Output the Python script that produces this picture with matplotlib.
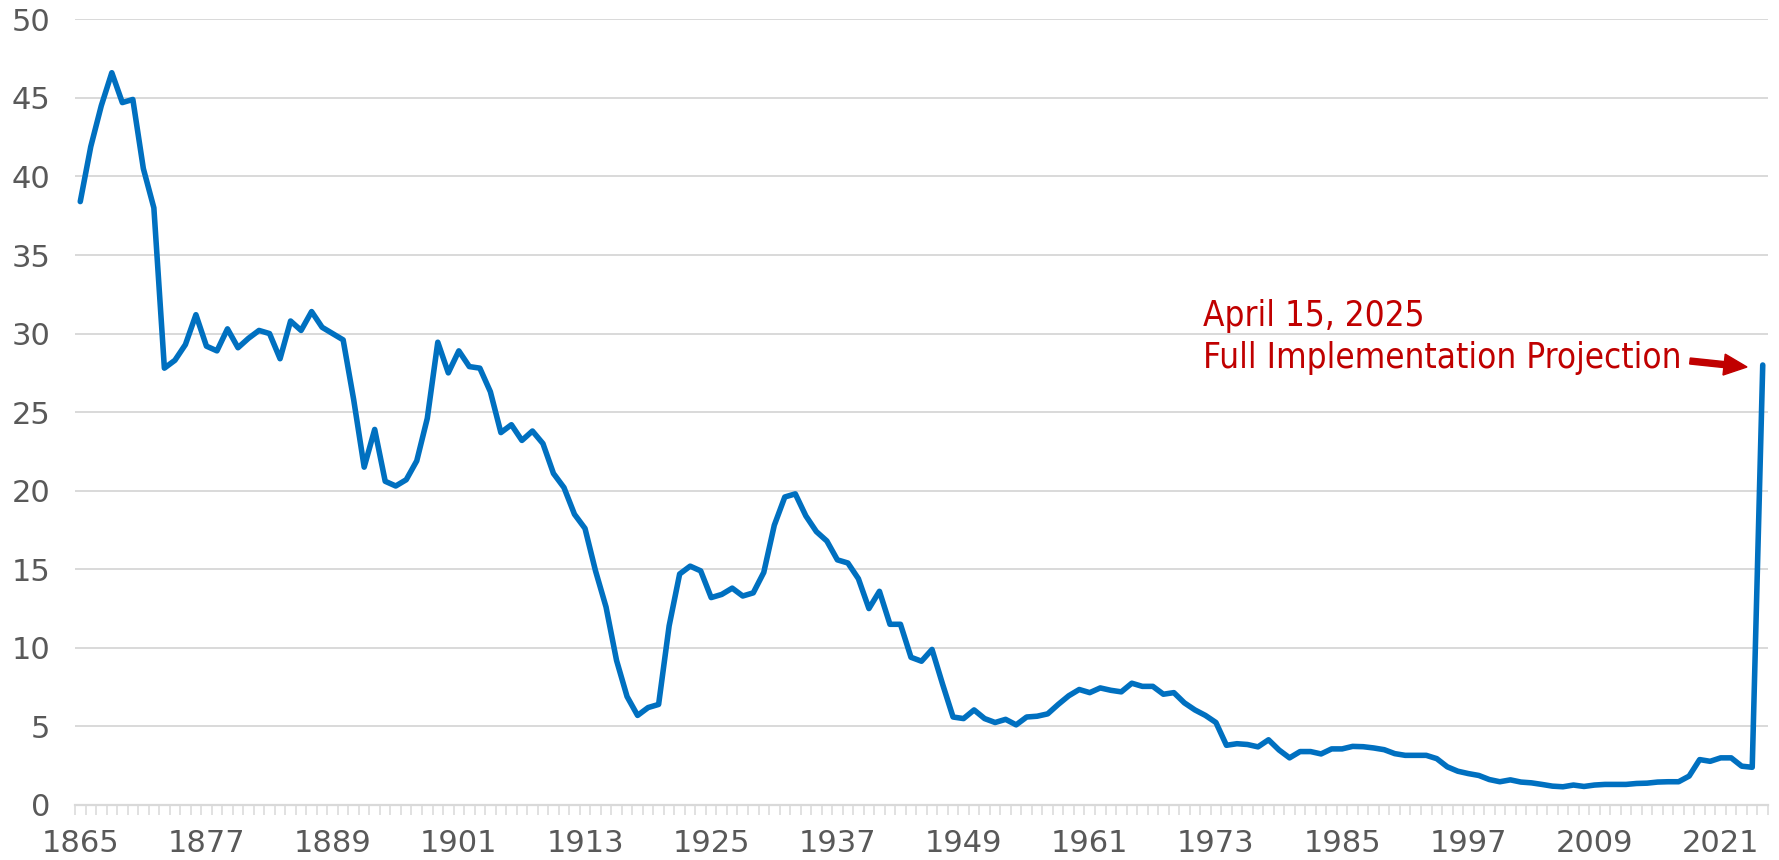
import matplotlib
matplotlib.use("Agg")
import matplotlib.pyplot as plt
import numpy as np
from matplotlib.patches import FancyArrow
from matplotlib.transforms import IdentityTransform
from matplotlib.ticker import FixedLocator, NullFormatter

# ---------------- data ----------------
years = list(range(1865, 2026))
tariff_rate = [
    38.4, 41.9, 44.5, 46.6, 44.7, 44.9, 40.5, 38.0, 27.8, 28.3,   # 1865-1874
    29.3, 31.2, 29.2, 28.9, 30.3, 29.1, 29.7, 30.2, 30.0, 28.4,   # 1875-1884
    30.8, 30.2, 31.4, 30.4, 30.0, 29.6, 25.8, 21.5, 23.9, 20.6,   # 1885-1894
    20.3, 20.7, 21.9, 24.6, 29.45, 27.5, 28.9, 27.9, 27.8, 26.3,  # 1895-1904
    23.7, 24.2, 23.2, 23.8, 23.0, 21.1, 20.2, 18.5, 17.6, 14.9,   # 1905-1914
    12.6, 9.2, 6.9, 5.7, 6.2, 6.4, 11.4, 14.7, 15.2, 14.9,        # 1915-1924
    13.2, 13.4, 13.8, 13.3, 13.5, 14.8, 17.8, 19.6, 19.8, 18.4,   # 1925-1934
    17.4, 16.8, 15.6, 15.4, 14.4, 12.5, 13.6, 11.5, 11.5, 9.4,    # 1935-1944
    9.15, 9.9, 7.7, 5.6, 5.5, 6.05, 5.5, 5.25, 5.45, 5.1,         # 1945-1954
    5.6, 5.65, 5.8, 6.4, 6.95, 7.35, 7.15, 7.45, 7.3, 7.2,        # 1955-1964
    7.75, 7.55, 7.55, 7.05, 7.15, 6.5, 6.05, 5.7, 5.25, 3.8,      # 1965-1974
    3.9, 3.85, 3.7, 4.15, 3.5, 3.0, 3.4, 3.4, 3.25, 3.57,         # 1975-1984
    3.57, 3.73, 3.71, 3.63, 3.52, 3.27, 3.16, 3.16, 3.16, 2.95,   # 1985-1994
    2.43, 2.15, 2.0, 1.88, 1.62, 1.48, 1.6, 1.46, 1.41, 1.31,     # 1995-2004
    1.2, 1.16, 1.27, 1.18, 1.27, 1.31, 1.31, 1.31, 1.37, 1.39,    # 2005-2014
    1.46, 1.48, 1.48, 1.84, 2.89, 2.78, 3.0, 3.0, 2.47, 2.4,      # 2015-2024
    28.0,                                                         # 2025
]
assert len(years) == len(tariff_rate)

label_years = list(range(1865, 2026, 12))
y_ticks = [0, 5, 10, 15, 20, 25, 30, 35, 40, 45, 50]
annotation_lines = ["April 15, 2025", "Full Implementation Projection"]

# ---------------- figure ----------------
W, H, DPI = 1779, 860, 100
fig = plt.figure(figsize=(W / DPI, H / DPI), dpi=DPI)
fig.patch.set_facecolor("white")

ax_left, ax_right = 75, 1768
ax_bottom, ax_top = 860 - 805, 860 - 19.3
ax = fig.add_axes([ax_left / W, ax_bottom / H, (ax_right - ax_left) / W, (ax_top - ax_bottom) / H])

line_color = "#0070C0"
grid_color = "#D9D9D9"
label_color = "#595959"

ax.plot(years, tariff_rate, color=line_color, lw=4.0, solid_joinstyle="round",
        solid_capstyle="round", zorder=3, clip_on=False)

ax.set_xlim(years[0] - 0.5, years[-1] + 0.5)
ax.set_ylim(0, 50)

# y axis
ax.set_yticks(y_ticks)
ax.yaxis.grid(True, color=grid_color, lw=1.4)
ax.set_axisbelow(True)
ax.tick_params(axis="y", length=0, pad=18, labelsize=22, labelcolor=label_color)

# x axis: labels every 12 years, tick marks at category boundaries
ax.set_xticks(label_years)
ax.xaxis.set_minor_locator(FixedLocator(np.arange(years[0] - 0.5, years[-1] + 1.0, 1.0)))
ax.xaxis.set_minor_formatter(NullFormatter())
ax.tick_params(axis="x", which="major", length=0, pad=17, labelsize=22, labelcolor=label_color)
ax.tick_params(axis="x", which="minor", length=7.5, width=1.1, color=grid_color, direction="out")

for s in ["top", "right", "left"]:
    ax.spines[s].set_visible(False)
ax.spines["bottom"].set_color(grid_color)
ax.spines["bottom"].set_linewidth(1.6)

# annotation text
ann_font = ["Liberation Sans Narrow", "DejaVu Sans"]
red = "#C00000"
t1 = fig.text(1203 / W, 1 - 326 / H, annotation_lines[0], color=red, fontsize=23,
              family=ann_font, ha="left", va="baseline", fontstretch="condensed")
t2 = fig.text(1203 / W, 1 - 368 / H, annotation_lines[1], color=red, fontsize=23,
              family=ann_font, ha="left", va="baseline", fontstretch="condensed")

# scale font so the second line spans ~480 px
fig.canvas.draw()
r = fig.canvas.get_renderer()
w2 = t2.get_window_extent(r).width
scale = 480.0 / w2
for t in (t1, t2):
    t.set_fontsize(23 * scale)

# arrow
arrow = FancyArrow(1690, 860 - 361, 57, -6, width=6, head_width=21, head_length=23,
                   length_includes_head=True, color=red, transform=IdentityTransform())
fig.patches.append(arrow)

fig.savefig("out.png", dpi=DPI, facecolor="white")
